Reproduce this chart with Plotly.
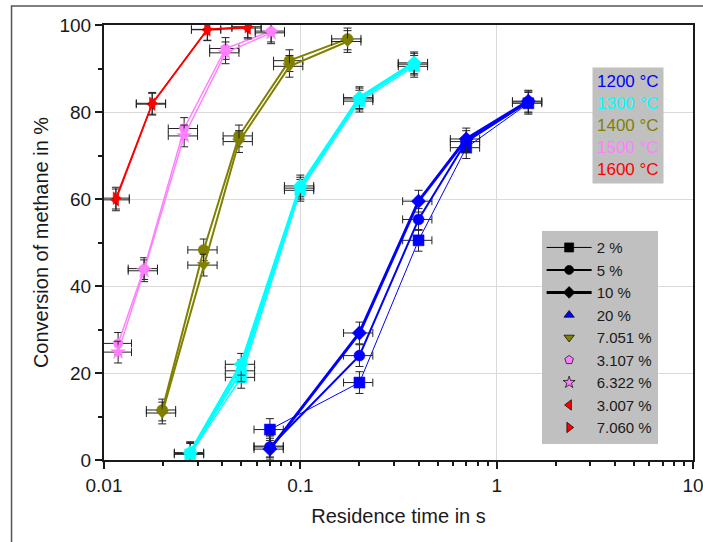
import plotly.graph_objects as go

# ---------------- data ----------------
# 1200 °C
x_1200 = [0.07, 0.2, 0.4, 0.7, 1.45]
y_1200_2 = [7.0, 17.8, 50.5, 71.8, 82.0]
y_1200_5 = [3.0, 24.0, 55.3, 73.2, 82.3]
y_1200_10 = [2.5, 29.2, 59.5, 73.8, 82.5]
x_1200_20 = [0.07]
y_1200_20 = [3.2]

# 1300 °C
x_1300 = [0.0275, 0.05, 0.1, 0.2, 0.38]
y_1300_2 = [1.3, 19.0, 62.0, 82.5, 90.5]
y_1300_5 = [1.5, 20.5, 62.5, 83.0, 91.0]
y_1300_10 = [1.7, 22.0, 63.0, 83.3, 91.3]

# 1400 °C
x_1400 = [0.0198, 0.0322, 0.0487, 0.088, 0.174]
y_1400_5 = [11.5, 48.3, 74.5, 91.8, 96.8]
y_1400_7051 = [10.8, 44.8, 73.2, 90.5, 96.2]

# 1500 °C
x_1500 = [0.0118, 0.016, 0.0256, 0.0416, 0.071]
y_1500_3107 = [26.8, 44.0, 76.2, 94.6, 98.6]
y_1500_6322 = [24.8, 43.5, 74.5, 93.6, 98.2]

# 1600 °C
x_1600 = [0.0115, 0.0176, 0.0336, 0.054]
y_1600_3007 = [59.8, 81.8, 98.9, 99.3]
y_1600_7060 = [60.2, 82.0, 99.0, 99.6]

temps = ["1200 °C", "1300 °C", "1400 °C", "1500 °C", "1600 °C"]
legend_labels = ["2 %", "5 %", "10 %", "20 %", "7.051 %", "3.107 %", "6.322 %", "3.007 %", "7.060 %"]

x_major = [0.01, 0.1, 1, 10]
x_major_text = ["0.01", "0.1", "1", "10"]

# ---------------- styles ----------------
C_BLUE = "#0000FF"
C_CYAN = "#00FFFF"
C_OLIVE = "#808000"
C_VIOLET = "#FF80FF"
C_RED = "#FF0000"
temp_colors = [C_BLUE, C_CYAN, C_OLIVE, C_VIOLET, C_RED]

FONT = "Liberation Sans, Arial, sans-serif"

fig = go.Figure()

def add_series(x, y, color, symbol, lw, msize=11, show_line=True, yerr=2.5):
    fig.add_trace(go.Scatter(
        x=x, y=y,
        mode="lines+markers" if show_line else "markers",
        line=dict(color=color, width=lw),
        marker=dict(color=color, symbol=symbol, size=msize,
                    line=dict(color=color, width=0.5)),
        error_x=dict(type="percent", value=17, color="#222222", thickness=1, width=4),
        error_y=dict(type="constant", value=yerr, color="#222222", thickness=1, width=4),
        showlegend=False, hoverinfo="x+y",
    ))

# 1200
add_series(x_1200, y_1200_2, C_BLUE, "square", 1)
add_series(x_1200, y_1200_5, C_BLUE, "circle", 2)
add_series(x_1200, y_1200_10, C_BLUE, "diamond", 3)
add_series(x_1200_20, y_1200_20, C_BLUE, "triangle-up", 0, show_line=False)
# 1300
add_series(x_1300, y_1300_2, C_CYAN, "square", 1.5)
add_series(x_1300, y_1300_5, C_CYAN, "circle", 2)
add_series(x_1300, y_1300_10, C_CYAN, "diamond", 3)
# 1400
add_series(x_1400, y_1400_5, C_OLIVE, "circle", 2)
add_series(x_1400, y_1400_7051, C_OLIVE, "triangle-down", 2)
# 1500
add_series(x_1500, y_1500_3107, C_VIOLET, "pentagon", 1.5)
add_series(x_1500, y_1500_6322, C_VIOLET, "star", 1.5)
# 1600
add_series(x_1600, y_1600_3007, C_RED, "triangle-left", 1.5)
add_series(x_1600, y_1600_7060, C_RED, "triangle-right", 1.5)

# legend-only entries
leg_styles = [
    ("black", "square", 1, True),
    ("black", "circle", 2, True),
    ("black", "diamond", 3, True),
    (C_BLUE, "triangle-up", 0, False),
    (C_OLIVE, "triangle-down", 0, False),
    (C_VIOLET, "pentagon", 0, False),
    (C_VIOLET, "star", 0, False),
    (C_RED, "triangle-left", 0, False),
    (C_RED, "triangle-right", 0, False),
]
for lab, (col, sym, lw, ln) in zip(legend_labels, leg_styles):
    fig.add_trace(go.Scatter(
        x=[None], y=[None], name=lab,
        mode="lines+markers" if ln else "markers",
        line=dict(color=col, width=max(lw, 1)),
        marker=dict(color=col, symbol=sym, size=9, line=dict(color="black", width=0.7)),
        showlegend=True,
    ))

temp_text = "<br>".join(
    f"<span style='color:{c}'>{t}</span>" for t, c in zip(temps, temp_colors)
)

fig.update_layout(
    width=703, height=542,
    margin=dict(l=104, r=8, t=25, b=82),
    paper_bgcolor="white", plot_bgcolor="white",
    font=dict(family=FONT, size=19, color="#1a1a1a"),
    xaxis=dict(
        type="log", range=[-2, 1],
        tickvals=x_major, ticktext=x_major_text,
        ticks="outside", ticklen=7, tickwidth=1.5, tickcolor="#1a1a1a",
        ticklabeloverflow="allow", automargin=False,
        showline=True, linecolor="#1a1a1a", linewidth=2, mirror=True,
        showgrid=True, gridcolor="#DADADA", gridwidth=1,
        minor=dict(tickvals=[m * d for d in (0.01, 0.1, 1) for m in range(2, 10)],
                   ticks="outside", ticklen=4, tickcolor="#1a1a1a", showgrid=False),
        title=dict(text="Residence time in s", font=dict(size=20), standoff=14),
        zeroline=False,
    ),
    yaxis=dict(
        range=[0, 100], dtick=20,
        ticks="outside", ticklen=7, tickwidth=1.5, tickcolor="#1a1a1a",
        showline=True, linecolor="#1a1a1a", linewidth=2, mirror=True,
        showgrid=True, gridcolor="#DADADA", gridwidth=1,
        minor=dict(dtick=10, ticks="outside", ticklen=4, tickcolor="#1a1a1a", showgrid=False),
        title=dict(text="Conversion of methane in %", font=dict(size=20), standoff=5),
        zeroline=False,
    ),
    legend=dict(
        x=0.743, y=0.526, xanchor="left", yanchor="top",
        bgcolor="#C0C0C0", font=dict(size=15, color="#1a1a1a"),
        borderwidth=0, itemwidth=45,
    ),
    annotations=[dict(
        x=0.89, y=0.77, xref="paper", yref="paper",
        xanchor="center", yanchor="middle",
        text=temp_text, showarrow=False, align="left",
        bgcolor="#C0C0C0", borderpad=4,
        font=dict(size=17, family=FONT),
    )],
    shapes=[dict(
        type="rect", xref="paper", yref="paper",
        x0=-0.157, x1=1.2, y0=-0.4, y1=1.0437,
        line=dict(color="#555555", width=1.5), fillcolor="rgba(0,0,0,0)", layer="below",
    )],
)

fig.write_html("out.html", config={"displayModeBar": False},
               post_script="document.body.style.margin='0';document.body.style.overflow='hidden';")
